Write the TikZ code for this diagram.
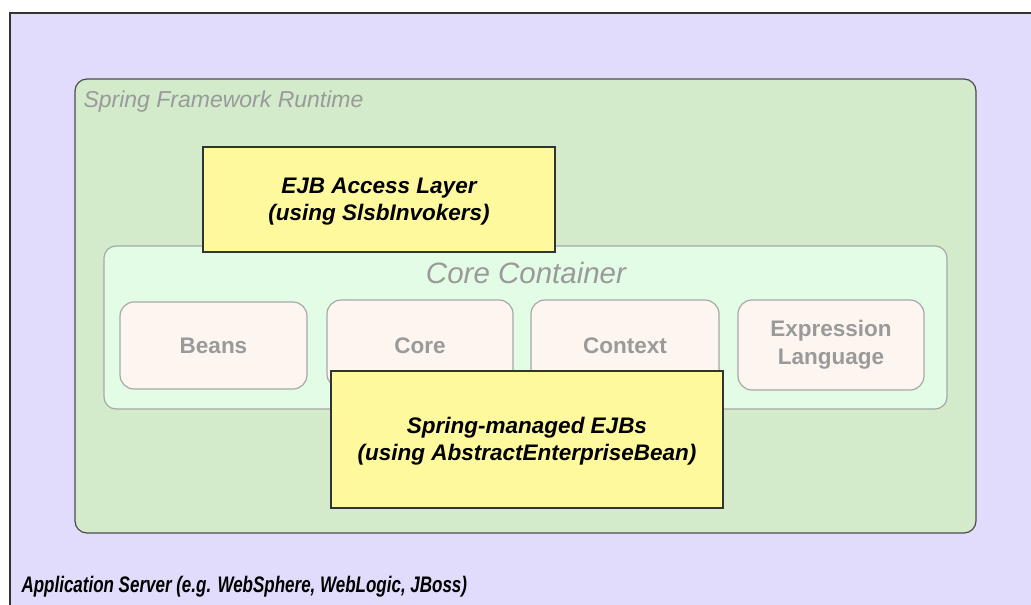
\documentclass[tikz,border=0pt]{standalone}
\usepackage{fontspec}
\setmainfont{Liberation Sans}
\definecolor{appbg}{HTML}{E1DCFC}
\definecolor{springbg}{HTML}{D3EACB}
\definecolor{corebg}{HTML}{E3FCE6}
\definecolor{modbg}{HTML}{FDF5F0}
\definecolor{yel}{HTML}{FFF99E}
\definecolor{graytxt}{HTML}{9A9A9A}
\definecolor{grayline}{HTML}{A8A8A8}
\begin{document}
\begin{tikzpicture}[x=1pt,y=-1pt,
  module/.style={draw=grayline,line width=1.2pt,fill=modbg,rounded corners=14pt},
  modtext/.style={text=graytxt,font=\fontsize{22.5}{28}\selectfont\bfseries,align=center},
  yelbox/.style={draw=black!80,line width=1.2pt,fill=yel},
  yeltext/.style={font=\fontsize{22.5}{27}\selectfont\bfseries\itshape,align=center}]
\useasboundingbox (0,0) rectangle (1031,605);
\fill[white] (0,0) rectangle (1031,605);
% application server
\path[fill=appbg] (10,13) rectangle (1031,605);
\draw[black!80,line width=1.3pt] (10,605) -- (10,13) -- (1031,13);
\node[anchor=west,font=\fontsize{22.5}{26}\selectfont\bfseries\itshape\addfontfeature{FakeStretch=0.755}] (app) at (18,587) {Application Server (e.g. WebSphere, WebLogic, JBoss)};
% spring runtime
\draw[fill=springbg,draw=black!70,line width=1.2pt,rounded corners=12pt] (75,79) rectangle (976,533);
\node[anchor=west,text=graytxt,font=\fontsize{23}{27}\selectfont\itshape] (spr) at (80,102) {Spring Framework Runtime};
% core container
\draw[fill=corebg,draw=grayline,line width=1.2pt,rounded corners=12pt] (104,246) rectangle (947,409);
\node[text=graytxt,font=\fontsize{29.5}{34}\selectfont\itshape] (cc) at (526,273) {Core Container};
% modules
\draw[module] (120,302) rectangle (307,389);
\node[modtext] (beans) at (213.5,346) {Beans};
\draw[module] (327,300) rectangle (513,388);
\node[modtext] (core) at (420,346) {Core};
\draw[module] (531,300) rectangle (719,388);
\node[modtext] (ctx) at (625,346) {Context};
\draw[module] (738,300) rectangle (924,390);
\node[modtext] (el) at (831,345) {Expression\\Language};
% yellow boxes
\draw[yelbox] (203,147) rectangle (555,252);
\node[yeltext] (ejb) at (379,202) {EJB Access Layer\\(using SlsbInvokers)};
\draw[yelbox] (331,371) rectangle (723,508);
\node[yeltext] (smb) at (527,441) {Spring-managed EJBs\\(using AbstractEnterpriseBean)};
\end{tikzpicture}
\end{document}
